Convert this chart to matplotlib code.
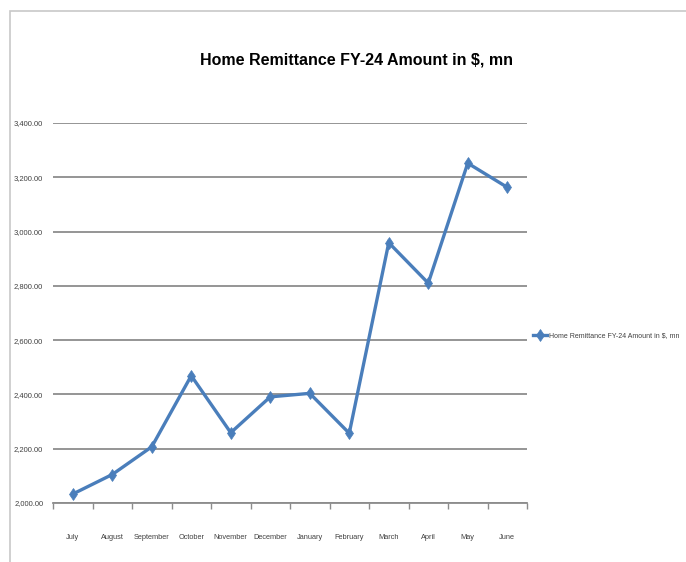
import matplotlib
matplotlib.use("Agg")
import matplotlib.pyplot as plt
from matplotlib.patches import Rectangle
from matplotlib.ticker import FuncFormatter, FixedLocator

months = ["July", "August", "September", "October", "November", "December",
          "January", "February", "March", "April", "May", "June"]
amounts = [2033, 2105, 2207, 2469, 2259, 2391, 2404, 2257, 2959, 2810, 3252, 3163]
series_name = "Home Remittance FY-24 Amount in $, mn"
title = "Home Remittance FY-24 Amount in $, mn"
yticks = [2000, 2200, 2400, 2600, 2800, 3000, 3200, 3400]

plt.rcParams['font.family'] = ['Liberation Sans Narrow', 'Liberation Sans', 'DejaVu Sans']

fig = plt.figure(figsize=(6.86, 5.62), dpi=100)
fig.patches.append(Rectangle((10/686, -0.1), 1.2, 1 - 11/562 + 0.1,
                             transform=fig.transFigure, fill=False,
                             edgecolor='#c8c8c8', linewidth=1.2))

ax = fig.add_axes([53/686, 1 - 503/562, (527-53)/686, (503-123)/562])
x = list(range(len(months)))
ax.plot(x, amounts, color='#4a7ebb', linewidth=2.4, marker='d', markersize=6,
        markeredgewidth=0.5, markeredgecolor='#4a7ebb', label=series_name,
        solid_joinstyle='miter')

ax.set_xlim(-0.5, len(months) - 0.5)
ax.set_ylim(2000, 3400)
ax.yaxis.set_major_locator(FixedLocator(yticks))
ax.yaxis.set_major_formatter(FuncFormatter(lambda v, p: f"{v:,.2f}"))
ax.grid(axis='y', color='#8c8c8c', linewidth=1.3)
ax.set_axisbelow(True)
for s in ['top', 'right', 'left']:
    ax.spines[s].set_visible(False)
ax.spines['bottom'].set_color('#8c8c8c')
ax.spines['bottom'].set_linewidth(1.3)

ax.set_xticks(x)
ax.set_xticklabels(months, fontsize=5.3, color='#404040')
ax.set_xticks([i - 0.5 for i in range(len(months) + 1)], minor=True)
ax.tick_params(axis='x', which='major', length=0, pad=22)
ax.tick_params(axis='x', which='minor', length=4, color='#8c8c8c', width=1)
ax.tick_params(axis='y', length=0, labelsize=5.5, colors='#404040', pad=7)

fig.text(356/686, 1 - 60/562, title, ha='center', va='center',
         fontsize=11.5, fontweight='bold', color='#000000')

leg = fig.legend(loc='center left', bbox_to_anchor=(533/686, 1 - 336/562),
                 frameon=False, fontsize=5.0, handlelength=2.0,
                 handletextpad=0.3, borderaxespad=0, borderpad=0)
for t in leg.get_texts():
    t.set_color('#404040')

fig.savefig("out.png", dpi=100)
